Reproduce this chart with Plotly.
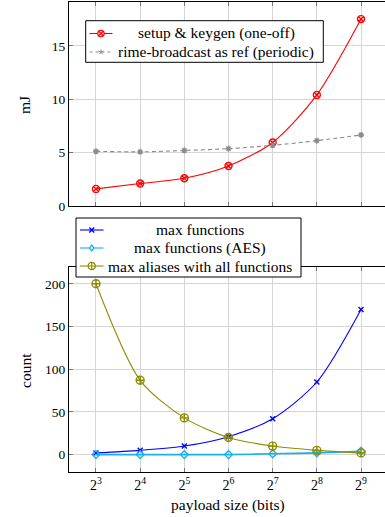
import math
import plotly.graph_objects as go

# ---- data ----
payload_bits = [8, 16, 32, 64, 128, 256, 512]
tick_labels = ["2<sup>3</sup>", "2<sup>4</sup>", "2<sup>5</sup>", "2<sup>6</sup>",
               "2<sup>7</sup>", "2<sup>8</sup>", "2<sup>9</sup>"]

setup_keygen = [1.6, 2.1, 2.6, 3.75, 5.95, 10.4, 17.5]
rime_broadcast = [5.12, 5.07, 5.2, 5.37, 5.68, 6.12, 6.65]

max_functions = [2, 5, 10, 21, 42, 85, 170]
max_functions_aes = [0, 0, 0, 0, 1, 2, 4]
max_aliases = [200, 87, 43, 20, 10, 5, 2]

top_names = ["setup & keygen (one-off)", "rime-broadcast as ref (periodic)"]
bottom_names = ["max functions", "max functions (AES)", "max aliases with all functions"]

W, H = 385, 517
FONT = "Liberation Serif, DejaVu Serif, serif"
FS_TEXT = 15.5
FS_TICK = 13.5

RED, GRAY, BLUE, CYAN, OLIVE = "#ff0000", "#8c8c8c", "#0000ff", "#1ab2ec", "#8c8c00"


def fx(p):
    return p / W


def fy(p):
    return 1 - p / H


xdom = [69 / W, 1.0]
xrange = [math.log10(2 ** 2.389), math.log10(2 ** 9.543)]

fig = go.Figure()

def add_series(x, y, name, color, symbol, size, xa, ya, dash="solid", width=1.1):
    fig.add_trace(go.Scatter(
        x=x, y=y, name=name, mode="lines+markers", showlegend=False,
        line=dict(color=color, width=width, dash=dash, shape="spline", smoothing=0.8),
        marker=dict(symbol=symbol, size=size, color=color, line=dict(width=1.4, color=color)),
        xaxis=xa, yaxis=ya))

add_series(payload_bits, setup_keygen, top_names[0], RED, "circle-x-open", 7, "x", "y")
add_series(payload_bits, rime_broadcast, top_names[1], GRAY, "asterisk-open", 5, "x", "y", dash="4px,3px")
add_series(payload_bits, max_functions, bottom_names[0], BLUE, "x-thin-open", 5, "x2", "y2")
add_series(payload_bits, max_functions_aes, bottom_names[1], CYAN, "diamond-open", 6, "x2", "y2", width=1.6)
add_series(payload_bits, max_aliases, bottom_names[2], OLIVE, "circle-cross-open", 8, "x2", "y2")

grid = "#d6d6d6"
common_x = dict(type="log", range=xrange, tickvals=payload_bits, ticktext=tick_labels,
                showgrid=True, gridcolor=grid, gridwidth=1, ticks="inside", ticklen=4,
                tickcolor="#777777", showline=True, linecolor="black", linewidth=1,
                mirror="ticks", zeroline=False, automargin=False,
                tickfont=dict(family=FONT, size=FS_TICK + 0.5, color="black"))
common_y = dict(showgrid=True, gridcolor=grid, gridwidth=1, ticks="inside", ticklen=4,
                tickcolor="#777777", showline=True, linecolor="black", linewidth=1,
                mirror=False, zeroline=False, automargin=False,
                tickfont=dict(family=FONT, size=FS_TICK, color="black"))

# ---- hand-built legends (centered text like the original) ----
shapes = []
annotations = []


def seg_path(points_list):
    parts = []
    for (x0, y0), (x1, y1) in points_list:
        parts.append(f"M {fx(x0)},{fy(y0)} L {fx(x1)},{fy(y1)}")
    return " ".join(parts)


def legend_box(x0, y0, x1, y1):
    shapes.append(dict(type="rect", xref="paper", yref="paper", layer="above",
                       x0=fx(x0), x1=fx(x1), y0=fy(y1), y1=fy(y0),
                       line=dict(color="black", width=1), fillcolor="white"))


def legend_entry(lx0, lx1, cy, color, kind, text, tcx, dash="solid"):
    shapes.append(dict(type="line", xref="paper", yref="paper", layer="above",
                       x0=fx(lx0), x1=fx(lx1), y0=fy(cy), y1=fy(cy),
                       line=dict(color=color, width=1.1, dash=dash)))
    mx = (lx0 + lx1) / 2
    if kind in ("otimes", "oplus"):
        r = 3.2 if kind == "otimes" else 3.6
        shapes.append(dict(type="circle", xref="paper", yref="paper", layer="above",
                           x0=fx(mx - r), x1=fx(mx + r), y0=fy(cy + r), y1=fy(cy - r),
                           line=dict(color=color, width=1.3), fillcolor="white"))
        if kind == "otimes":
            d = r * 0.7
            segs = [((mx - d, cy - d), (mx + d, cy + d)), ((mx - d, cy + d), (mx + d, cy - d))]
        else:
            segs = [((mx - r, cy), (mx + r, cy)), ((mx, cy - r), (mx, cy + r))]
        shapes.append(dict(type="path", xref="paper", yref="paper", layer="above",
                           path=seg_path(segs), line=dict(color=color, width=1.2)))
    elif kind == "x":
        d = 2.4
        segs = [((mx - d, cy - d), (mx + d, cy + d)), ((mx - d, cy + d), (mx + d, cy - d))]
        shapes.append(dict(type="path", xref="paper", yref="paper", layer="above",
                           path=seg_path(segs), line=dict(color=color, width=1.4)))
    elif kind == "star":
        r = 2.6
        segs = []
        for k in range(5):
            a = math.radians(90 + 72 * k)
            segs.append(((mx, cy), (mx + r * math.cos(a), cy - r * math.sin(a))))
        shapes.append(dict(type="path", xref="paper", yref="paper", layer="above",
                           path=seg_path(segs), line=dict(color=color, width=1.0)))
    elif kind == "diamond":
        r = 3.0
        p = (f"M {fx(mx)},{fy(cy - r)} L {fx(mx + r * 0.75)},{fy(cy)} "
             f"L {fx(mx)},{fy(cy + r)} L {fx(mx - r * 0.75)},{fy(cy)} Z")
        shapes.append(dict(type="path", xref="paper", yref="paper", layer="above",
                           path=p, line=dict(color=color, width=1.3), fillcolor="white"))
    annotations.append(dict(text=text, x=fx(tcx), y=fy(cy), xref="paper", yref="paper",
                            xanchor="center", yanchor="middle", showarrow=False,
                            font=dict(family=FONT, size=FS_TEXT, color="black")))


legend_box(85.7, 20.7, 323.3, 62.3)
legend_entry(89.5, 112.5, 33.5, RED, "otimes", top_names[0], 216)
legend_entry(89.5, 112.5, 52.0, GRAY, "star", top_names[1], 216, dash="3px,3px")

legend_box(76, 218, 301, 277)
legend_entry(80, 103.5, 230.0, BLUE, "x", bottom_names[0], 200)
legend_entry(80, 103.5, 248.0, CYAN, "diamond", bottom_names[1], 200)
legend_entry(80, 103.5, 266.0, OLIVE, "oplus", bottom_names[2], 200)

annotations += [
    dict(text="mJ", x=fx(25), y=fy(105), xref="paper", yref="paper",
         xanchor="center", yanchor="middle",
         textangle=-90, showarrow=False, font=dict(family=FONT, size=FS_TEXT)),
    dict(text="count", x=fx(25), y=fy(370), xref="paper", yref="paper",
         xanchor="center", yanchor="middle",
         textangle=-90, showarrow=False, font=dict(family=FONT, size=FS_TEXT)),
    dict(text="payload size (bits)", x=fx(228), y=fy(505), xref="paper", yref="paper",
         xanchor="center", yanchor="middle",
         showarrow=False, font=dict(family=FONT, size=FS_TEXT)),
]

fig.update_layout(
    width=W, height=H, autosize=False, showlegend=False,
    margin=dict(l=0, r=0, t=0, b=0, pad=0),
    paper_bgcolor="white", plot_bgcolor="white",
    font=dict(family=FONT, size=FS_TEXT, color="black"),
    xaxis=dict(domain=xdom, anchor="y", showticklabels=False, **common_x),
    yaxis=dict(domain=[fy(206), fy(2)], anchor="x", range=[0, 19.1],
               tickvals=[0, 5, 10, 15], **common_y),
    xaxis2=dict(domain=xdom, anchor="y2", **common_x),
    yaxis2=dict(domain=[fy(471.7), fy(266.7)], anchor="x2", range=[-20, 220],
                tickvals=[0, 50, 100, 150, 200], **common_y),
    shapes=shapes,
    annotations=annotations,
)

fig.write_html("out.html", config={"displayModeBar": False},
               post_script="document.body.style.margin='0';")
